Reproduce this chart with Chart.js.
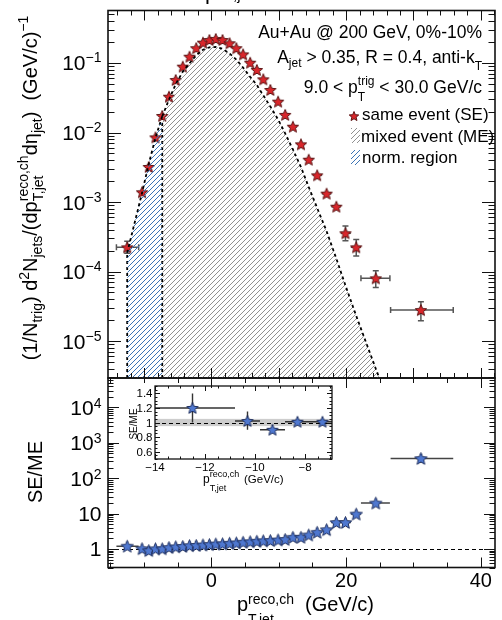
<!DOCTYPE html>
<html><head><meta charset="utf-8">
<script src="https://cdn.jsdelivr.net/npm/chart.js@4/dist/chart.umd.min.js"></script>
<style>
html,body{margin:0;padding:0;background:#fff;}
#wrap{position:relative;width:502px;height:620px;overflow:hidden;background:#fff;}
canvas{position:absolute;left:0;top:0;}
</style></head><body>
<div id="wrap">
<canvas id="cLow" width="502" height="620"></canvas>
<canvas id="cUp" width="502" height="620"></canvas>
<canvas id="cIn" width="502" height="620"></canvas>
</div>
<script>
// ---------------- data ----------------
const ptCenters = [-12.5,-10.3,-9.3,-8.3,-7.3,-6.3,-5.3,-4.25,-3.25,-2.25,-1.25,-0.3,0.65,1.65,2.7,3.7,4.7,5.75,6.75,7.7,8.75,9.9,10.95,12.1,13.3,14.45,15.7,17.1,18.55,19.9,21.5,24.4,31.1];
const binLo = [-14.1,-10.8,-9.8,-8.8,-7.8,-6.8,-5.8,-4.75,-3.75,-2.75,-1.75,-0.8,0.15,1.15,2.2,3.2,4.2,5.2,6.25,7.2,8.2,9.3,10.4,11.5,12.7,13.85,15.05,16.4,17.8,19.2,20.7,22.2,26.6];
const binHi = [-10.8,-9.8,-8.8,-7.8,-6.8,-5.8,-4.75,-3.75,-2.75,-1.75,-0.8,0.15,1.15,2.2,3.2,4.2,5.2,6.25,7.2,8.2,9.3,10.4,11.5,12.7,13.85,15.05,16.4,17.8,19.2,20.7,22.2,26.5,35.9];
const seValues = [2.23e-4,1.38e-3,3.19e-3,8.5e-3,1.73e-2,3.27e-2,5.69e-2,8.85e-2,0.123,0.163,0.196,0.214,0.221,0.214,0.192,0.163,0.133,0.101,0.0793,0.0582,0.0409,0.0278,0.0179,0.0121,6.76e-3,4.06e-3,2.42e-3,1.32e-3,8.56e-4,3.55e-4,2.23e-4,7.98e-5,2.79e-5];
const seErrUp = [5e-5,6e-5,1e-4,2e-4,3e-4,4e-4,5e-4,6e-4,7e-4,8e-4,9e-4,9e-4,9e-4,9e-4,9e-4,8e-4,7e-4,6e-4,5e-4,4e-4,3.5e-4,3e-4,2.5e-4,2e-4,1.5e-4,1.2e-4,1e-4,8e-5,7e-5,9.5e-5,6.7e-5,2.3e-5,8.8e-6];
const seErrDn = [4e-5,6e-5,1e-4,2e-4,3e-4,4e-4,5e-4,6e-4,7e-4,8e-4,9e-4,9e-4,9e-4,9e-4,9e-4,8e-4,7e-4,6e-4,5e-4,4e-4,3.5e-4,3e-4,2.5e-4,2e-4,1.5e-4,1.2e-4,1e-4,8e-5,7e-5,7.8e-5,5.6e-5,2.1e-5,8.3e-6];
const meValues = [1.86e-4,1.35e-3,3.54e-3,8.4e-3,1.71e-2,2.97e-2,4.95e-2,7.5e-2,9.9e-2,0.129,0.155,0.168,0.170,0.160,0.137,0.112,0.0858,0.0631,0.0481,0.0342,0.0236,0.0154,0.0097,0.0057,0.00317,0.00164,8.2e-4,3.8e-4,1.53e-4,6.3e-5,2.3e-5,4.0e-6,7.8e-8];
const ratioValues = [1.2,1.02,0.9,1.01,1.01,1.1,1.15,1.18,1.24,1.26,1.3,1.33,1.38,1.4,1.45,1.48,1.55,1.6,1.65,1.7,1.73,1.8,1.85,2.13,2.13,2.48,2.95,3.5,5.6,5.6,9.7,19.8,359];
const ratioErrUp = [0.2,0.13,0.03,0.03,0.03,0.03,0.03,0.03,0.03,0.03,0.03,0.03,0.03,0.03,0.03,0.03,0.04,0.04,0.04,0.05,0.05,0.06,0.07,0.09,0.1,0.14,0.2,0.3,0.6,0.7,1.4,3.5,120];
const ratioErrDn = [0.2,0.12,0.03,0.03,0.03,0.03,0.03,0.03,0.03,0.03,0.03,0.03,0.03,0.03,0.03,0.03,0.04,0.04,0.04,0.05,0.05,0.06,0.07,0.09,0.1,0.14,0.2,0.3,0.6,0.7,1.4,3.5,90];
const normRegion = [-12.5, -7.3];
const insetCount = 5;
const insetBand = [0.95, 1.05];
const unity = 1;
const upperYTicks = [1e-5,1e-4,1e-3,1e-2,1e-1];
const upperYLabels = [['10','\u22125'],['10','\u22124'],['10','\u22123'],['10','\u22122'],['10','\u22121']];
const lowerYTicks = [1,10,100,1000,10000];
const lowerYLabels = [['1',''],['10',''],['10','2'],['10','3'],['10','4']];
const lowerXTicks = [0,20,40];
const lowerXLabels = ['0','20','40'];
const insetXTicks = [-14,-12,-10,-8];
const insetXLabels = ['\u221214','\u221212','\u221210','\u22128'];
const insetYTicks = [0.6,0.8,1,1.2,1.4];
const insetYLabels = ['0.6','0.8','1','1.2','1.4'];

// ---------------- helpers ----------------
const FONT = '"Liberation Sans", Arimo, Arial, Helvetica, sans-serif';
const f = s => s + 'px ' + FONT;

function makeStar(R, fill, stroke){
  const s = Math.ceil(2*R+4); const c = document.createElement('canvas'); c.width = c.height = s;
  const g = c.getContext('2d'); const cx = s/2, cy = s/2 + 0.5; const r = R*0.45;
  g.beginPath();
  for(let i=0;i<10;i++){ const a=-Math.PI/2+i*Math.PI/5; const rr=i%2?r:R; const px=cx+rr*Math.cos(a), py=cy+rr*Math.sin(a); if(i) g.lineTo(px,py); else g.moveTo(px,py); }
  g.closePath(); g.fillStyle = fill; g.fill(); g.lineWidth = 1; g.strokeStyle = stroke; g.stroke();
  return c;
}
function hatch(ctx, color, gap, lw){
  const c = document.createElement('canvas'); c.width = c.height = gap;
  const g = c.getContext('2d'); g.strokeStyle = color; g.lineWidth = lw;
  g.beginPath(); g.moveTo(0,gap); g.lineTo(gap,0); g.moveTo(-2,2); g.lineTo(2,-2); g.moveTo(gap-2,gap+2); g.lineTo(gap+2,gap-2); g.stroke();
  return ctx.createPattern(c,'repeat');
}
function segW(ctx,s){ ctx.font=f(s.z); if(s.sup!==undefined) return Math.max(ctx.measureText(s.sup).width, ctx.measureText(s.sub).width); return ctx.measureText(s.t).width; }
function rich(ctx,segs,x,y,align){
  let w=0; segs.forEach(s=>w+=segW(ctx,s));
  let cx = align==='right'? x-w : align==='center'? x-w/2 : x;
  ctx.textAlign='left'; ctx.textBaseline='alphabetic';
  segs.forEach(s=>{ const ww=segW(ctx,s); ctx.font=f(s.z);
    if(s.sup!==undefined){ ctx.fillText(s.sup,cx,y+s.up); ctx.fillText(s.sub,cx,y+s.dn); }
    else ctx.fillText(s.t,cx,y+(s.dy||0));
    cx+=ww; });
  return w;
}
function linTicks(min,max,step){ const r=[]; for(let k=Math.ceil(min/step-1e-9); k*step<=max+1e-9; k++) r.push(+(k*step).toFixed(6)); return r; }
function isMult(v,step){ return Math.abs(v/step-Math.round(v/step))<1e-6; }
function logTicks(min,max){ const r=[]; for(let d=Math.floor(Math.log10(min)); d<=Math.ceil(Math.log10(max)); d++) for(let k=1;k<10;k++){ const v=k*Math.pow(10,d); if(v>=min&&v<=max) r.push({v,major:k===1}); } return r; }
function frameTicks(ctx,a,x,y,o){
  ctx.save(); ctx.strokeStyle='#111'; ctx.lineWidth=1; ctx.beginPath();
  linTicks(x.min,x.max,o.xMinor).forEach(v=>{ const L=isMult(v,o.xMajor)?o.xMaj:o.xMin; const px=Math.round(x.getPixelForValue(v))+0.5;
    ctx.moveTo(px,a.bottom); ctx.lineTo(px,a.bottom-L); ctx.moveTo(px,a.top); ctx.lineTo(px,a.top+L); });
  const yt = o.yLog ? logTicks(y.min,y.max) : linTicks(y.min,y.max,o.yMinor).map(v=>({v,major:isMult(v,o.yMajor)}));
  yt.forEach(t=>{ const L=t.major?o.yMaj:o.yMin; const py=Math.round(y.getPixelForValue(t.v))+0.5;
    ctx.moveTo(a.left,py); ctx.lineTo(a.left+L,py); ctx.moveTo(a.right,py); ctx.lineTo(a.right-L,py); });
  ctx.stroke();
  ctx.lineWidth=o.fw||1.6; ctx.strokeRect(a.left,a.top,a.right-a.left,a.bottom-a.top);
  ctx.restore();
}
function rotRich(ctx,segs,bx,cy){ ctx.save(); ctx.translate(bx,cy); ctx.rotate(-Math.PI/2); rich(ctx,segs,0,0,'center'); ctx.restore(); }

const starRed = makeStar(6, '#d8262b', '#5a1414');
const starRedLeg = makeStar(5, '#d8262b', '#5a1414');
const starBlue = makeStar(6.5, '#4f78d0', '#1d2d5c');
const starBlueIn = makeStar(6, '#4f78d0', '#1d2d5c');

const upCtx = document.getElementById('cUp').getContext('2d');
const hatchGray = hatch(upCtx, '#858585', 5, 0.9);
const hatchBlue = hatch(upCtx, '#3b74b6', 5, 1.0);

const idx = ptCenters.map((_,i)=>i);
const normData = idx.filter(i=>ptCenters[i]>=normRegion[0] && ptCenters[i]<=normRegion[1]).map(i=>({x:ptCenters[i],y:meValues[i]}));
const meData = idx.filter(i=>ptCenters[i]>=normRegion[1]).map(i=>({x:ptCenters[i],y:meValues[i]}));
const seData = idx.map(i=>({x:ptCenters[i],y:seValues[i]}));
const ratioData = idx.map(i=>({x:ptCenters[i],y:ratioValues[i]}));
const insetData = idx.slice(0,insetCount).map(i=>({x:ptCenters[i],y:ratioValues[i]}));

const base = {responsive:false, animation:false, events:[], plugins:{legend:{display:false},tooltip:{enabled:false}}};

// ---------------- upper panel ----------------
const upperDecor = {
  id:'upperDecor',
  beforeDatasetDraw(chart,args){
    if(args.index!==2) return;
    const {ctx, chartArea:a, scales:{x,y}} = chart;
    ctx.save(); ctx.beginPath(); ctx.rect(a.left,a.top,a.right-a.left,a.bottom-a.top); ctx.clip();
    ctx.strokeStyle='#000'; ctx.lineWidth=1.8; ctx.setLineDash([3,3]);
    normRegion.forEach(v=>{ const i=ptCenters.indexOf(v); const px=x.getPixelForValue(v);
      ctx.beginPath(); ctx.moveTo(px,a.bottom); ctx.lineTo(px,y.getPixelForValue(meValues[i])); ctx.stroke(); });
    ctx.setLineDash([]);
    ctx.strokeStyle='#555'; ctx.lineWidth=1.5;
    for(let i=0;i<ptCenters.length;i++){
      const px=x.getPixelForValue(ptCenters[i]), py=y.getPixelForValue(seValues[i]);
      const x0=x.getPixelForValue(binLo[i]), x1=x.getPixelForValue(binHi[i]);
      const y0=y.getPixelForValue(seValues[i]+seErrUp[i]), y1=y.getPixelForValue(seValues[i]-seErrDn[i]);
      ctx.beginPath(); ctx.moveTo(x0,py); ctx.lineTo(x1,py); ctx.moveTo(px,y0); ctx.lineTo(px,y1);
      if(x1-x0>12){ ctx.moveTo(x0,py-3); ctx.lineTo(x0,py+3); ctx.moveTo(x1,py-3); ctx.lineTo(x1,py+3); }
      if(y1-y0>12){ ctx.moveTo(px-3,y0); ctx.lineTo(px+3,y0); ctx.moveTo(px-3,y1); ctx.lineTo(px+3,y1); }
      ctx.stroke();
    }
    ctx.restore();
  },
  afterDraw(chart){
    const {ctx, chartArea:a, scales:{x,y}} = chart;
    frameTicks(ctx,a,x,y,{xMajor:10,xMinor:2,xMaj:10,xMin:5,yLog:true,yMaj:13,yMin:6.5});
    ctx.save(); ctx.fillStyle='#000';
    upperYTicks.forEach((v,i)=>{ const py=y.getPixelForValue(v);
      rich(ctx,[{t:upperYLabels[i][0],z:21},{t:upperYLabels[i][1],z:14,dy:-8}],101.5,py+7.5,'right'); });
    // y title
    rotRich(ctx,[{t:'(1/N',z:20},{t:'trig',z:14,dy:5},{t:') d',z:20},{t:'2',z:14,dy:-8},{t:'N',z:20},{t:'jets',z:14,dy:5},
      {t:'/(dp',z:20},{sup:'reco,ch',sub:'T,jet',z:14,up:-9,dn:6},{t:'d\u03b7',z:20},{t:'jet',z:14,dy:5},{t:')  (GeV/c)',z:20},{t:'\u22121',z:14,dy:-9}],37,188);
    // annotations
    rich(ctx,[{t:'Au+Au @ 200 GeV, 0%-10%',z:17.5}],482,38,'right');
    rich(ctx,[{t:'A',z:17.5},{t:'jet',z:12,dy:4},{t:' > 0.35, R = 0.4, anti-k',z:17.5},{t:'T',z:12,dy:7}],482,63,'right');
    rich(ctx,[{t:'9.0 < p',z:17.5},{sup:'trig',sub:'T',z:12,up:-8,dn:8},{t:' < 30.0 GeV/c',z:17.5}],482,93,'right');
    // legend
    ctx.drawImage(starRedLeg, 354-starRedLeg.width/2, 116-starRedLeg.height/2);
    ctx.fillStyle=hatchGray; ctx.fillRect(351,128,9,15);
    ctx.fillStyle=hatchBlue; ctx.fillRect(351,150,9,15);
    ctx.fillStyle='#000';
    rich(ctx,[{t:'same event (SE)',z:17}],362,120,'left');
    rich(ctx,[{t:'mixed event (ME)',z:17}],361,141.5,'left');
    rich(ctx,[{t:'norm. region',z:17}],362,163,'left');
    // cut title of the figure above
    rich(ctx,[{t:'p',z:22},{t:'  T,jet',z:15,dy:1}],205,-1,'left');
    ctx.restore();
  }
};
new Chart(document.getElementById('cUp'), {
  type:'line',
  data:{datasets:[
    {data:normData, borderColor:'#000', borderWidth:1.8, borderDash:[3,3], backgroundColor:hatchBlue, fill:'start', pointRadius:0, tension:0},
    {data:meData, borderColor:'#000', borderWidth:1.8, borderDash:[3,3], backgroundColor:hatchGray, fill:'start', pointRadius:0, tension:0},
    {data:seData, showLine:false, pointStyle:starRed, pointRadius:6}
  ]},
  options:Object.assign({}, base, {
    layout:{padding:{left:108,top:10.5,right:1,bottom:242}},
    scales:{x:{type:'linear',min:-15.35,max:42.1,display:false}, y:{type:'logarithmic',min:2.94e-6,max:0.569,display:false}}
  }),
  plugins:[upperDecor]
});

// ---------------- lower panel ----------------
const lowerDecor = {
  id:'lowerDecor',
  beforeDatasetsDraw(chart){
    const {ctx, chartArea:a, scales:{x,y}} = chart;
    ctx.save(); ctx.beginPath(); ctx.rect(a.left,a.top,a.right-a.left,a.bottom-a.top); ctx.clip();
    ctx.strokeStyle='#000'; ctx.lineWidth=1; ctx.setLineDash([4,3]);
    const py=Math.round(y.getPixelForValue(unity))+0.5;
    ctx.beginPath(); ctx.moveTo(a.left,py); ctx.lineTo(a.right,py); ctx.stroke(); ctx.setLineDash([]);
    ctx.strokeStyle='#444'; ctx.lineWidth=1.5;
    for(let i=0;i<ptCenters.length;i++){
      const px=x.getPixelForValue(ptCenters[i]), p=y.getPixelForValue(ratioValues[i]);
      ctx.beginPath(); ctx.moveTo(x.getPixelForValue(binLo[i]),p); ctx.lineTo(x.getPixelForValue(binHi[i]),p);
      ctx.moveTo(px,y.getPixelForValue(ratioValues[i]+ratioErrUp[i])); ctx.lineTo(px,y.getPixelForValue(ratioValues[i]-ratioErrDn[i])); ctx.stroke();
    }
    ctx.restore();
  },
  afterDraw(chart){
    const {ctx, chartArea:a, scales:{x,y}} = chart;
    frameTicks(ctx,a,x,y,{xMajor:20,xMinor:5,xMaj:10,xMin:5,yLog:true,yMaj:11,yMin:5.5});
    ctx.save(); ctx.fillStyle='#000';
    lowerYTicks.forEach((v,i)=>{ const py=y.getPixelForValue(v);
      rich(ctx,[{t:lowerYLabels[i][0],z:21},{t:lowerYLabels[i][1],z:14,dy:-7}],101.5,py+7.5,'right'); });
    lowerXTicks.forEach((v,i)=>{ rich(ctx,[{t:lowerXLabels[i],z:20}],x.getPixelForValue(v),587,'center'); });
    rotRich(ctx,[{t:'SE/ME',z:20}],41.5,472);
    rich(ctx,[{t:'p',z:20},{sup:'reco,ch',sub:'T,jet',z:14,up:-7,dn:13}],237,611,'left');
    rich(ctx,[{t:'(GeV/c)',z:20}],305,611,'left');
    ctx.restore();
  }
};
new Chart(document.getElementById('cLow'), {
  type:'line',
  data:{datasets:[{data:ratioData, showLine:false, pointStyle:starBlue, pointRadius:6}]},
  options:Object.assign({}, base, {
    layout:{padding:{left:108,top:378,right:1,bottom:52.5}},
    scales:{x:{type:'linear',min:-15.35,max:42.1,display:false}, y:{type:'logarithmic',min:0.311,max:67800,display:false}}
  }),
  plugins:[lowerDecor]
});

// ---------------- inset ----------------
const insetDecor = {
  id:'insetDecor',
  beforeDatasetsDraw(chart){
    const {ctx, chartArea:a, scales:{x,y}} = chart;
    ctx.save(); ctx.beginPath(); ctx.rect(a.left,a.top,a.right-a.left,a.bottom-a.top); ctx.clip();
    const b0=y.getPixelForValue(insetBand[1]), b1=y.getPixelForValue(insetBand[0]);
    ctx.fillStyle='#cdcdcd'; ctx.fillRect(a.left,b0,a.right-a.left,b1-b0);
    ctx.strokeStyle='#000'; ctx.lineWidth=1; ctx.setLineDash([4,3]);
    const py=Math.round(y.getPixelForValue(unity))+0.5;
    ctx.beginPath(); ctx.moveTo(a.left,py); ctx.lineTo(a.right,py); ctx.stroke(); ctx.setLineDash([]);
    ctx.strokeStyle='#333'; ctx.lineWidth=1.4;
    for(let i=0;i<insetCount;i++){
      const px=x.getPixelForValue(ptCenters[i]), p=y.getPixelForValue(ratioValues[i]);
      ctx.beginPath(); ctx.moveTo(x.getPixelForValue(binLo[i]),p); ctx.lineTo(x.getPixelForValue(binHi[i]),p);
      ctx.moveTo(px,y.getPixelForValue(ratioValues[i]+ratioErrUp[i])); ctx.lineTo(px,y.getPixelForValue(ratioValues[i]-ratioErrDn[i])); ctx.stroke();
    }
    ctx.restore();
  },
  afterDraw(chart){
    const {ctx, chartArea:a, scales:{x,y}} = chart;
    frameTicks(ctx,a,x,y,{xMajor:2,xMinor:0.5,xMaj:5,xMin:2.5,yLog:false,yMajor:0.2,yMinor:0.05,yMaj:5,yMin:2.5,fw:1.3});
    ctx.save(); ctx.fillStyle='#000';
    insetXTicks.forEach((v,i)=>{ rich(ctx,[{t:insetXLabels[i],z:11.5}],x.getPixelForValue(v),470.5,'center'); });
    insetYTicks.forEach((v,i)=>{ rich(ctx,[{t:insetYLabels[i],z:11.5}],152.5,y.getPixelForValue(v)+4,'right'); });
    rotRich(ctx,[{t:'SE/ME',z:10}],136.5,424);
    rich(ctx,[{t:'p',z:12},{sup:'reco,ch',sub:'T,jet',z:9,up:-6,dn:8}],203,483,'left');
    rich(ctx,[{t:'(GeV/c)',z:11.5}],244,483,'left');
    ctx.restore();
  }
};
new Chart(document.getElementById('cIn'), {
  type:'line',
  data:{datasets:[{data:insetData, showLine:false, pointStyle:starBlueIn, pointRadius:6}]},
  options:Object.assign({}, base, {
    layout:{padding:{left:155,top:386,right:170,bottom:161}},
    scales:{x:{type:'linear',min:-14,max:-6.92,display:false}, y:{type:'linear',min:0.497,max:1.503,display:false}}
  }),
  plugins:[insetDecor]
});
</script>
</body></html>
